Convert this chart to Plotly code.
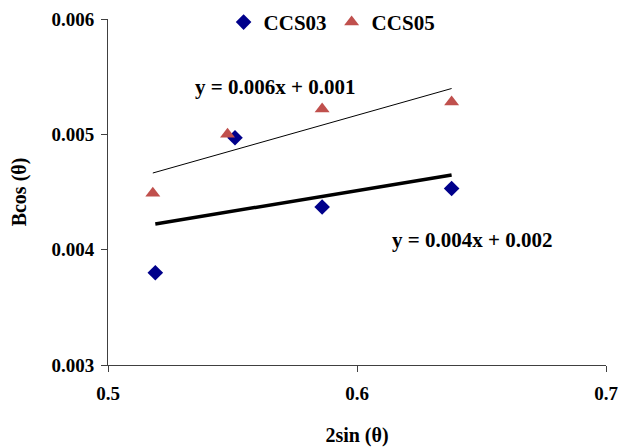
import numpy as np
import plotly.graph_objects as go

# Data
ccs03_x = [0.519, 0.551, 0.586, 0.638]
ccs03_y = [0.00380, 0.00497, 0.00437, 0.00453]
ccs05_x = [0.518, 0.548, 0.586, 0.638]
ccs05_y = [0.00449, 0.00500, 0.00522, 0.00528]

x_ticks = [0.5, 0.6, 0.7]
y_ticks = [0.003, 0.004, 0.005, 0.006]
eq03 = "y = 0.004x + 0.002"
eq05 = "y = 0.006x + 0.001"

FONT = "Liberation Serif"

def trend(xs, ys):
    m, b = np.polyfit(xs, ys, 1)
    xx = np.array([min(xs), max(xs)])
    return xx, m * xx + b

fig = go.Figure()

t03x, t03y = trend(ccs03_x, ccs03_y)
t05x, t05y = trend(ccs05_x, ccs05_y)

fig.add_trace(go.Scatter(x=t03x, y=t03y, mode="lines",
                         line=dict(color="black", width=3.5), showlegend=False))
fig.add_trace(go.Scatter(x=t05x, y=t05y, mode="lines",
                         line=dict(color="black", width=1), showlegend=False))

fig.add_trace(go.Scatter(x=ccs03_x, y=ccs03_y, mode="markers", name="CCS03",
                         marker=dict(symbol="diamond", size=12, color="#00008B")))
fig.add_trace(go.Scatter(x=ccs05_x, y=ccs05_y, mode="markers", name="CCS05",
                         marker=dict(symbol="triangle-up", size=13, color="#C0504D")))

fig.add_annotation(x=0.567, y=0.00541, text=eq05, showarrow=False,
                   font=dict(family=FONT, size=21, color="black", weight="bold"))
fig.add_annotation(x=0.646, y=0.004084, text=eq03, showarrow=False,
                   font=dict(family=FONT, size=21, color="black", weight="bold"))

axis_common = dict(
    showgrid=False, zeroline=False, showline=True,
    linecolor="#404040", linewidth=1,
    ticks="outside", ticklen=6, tickcolor="#404040",
    tickfont=dict(family=FONT, size=19, color="black", weight="bold"),
)

fig.update_layout(
    width=624, height=439,
    paper_bgcolor="white", plot_bgcolor="white",
    margin=dict(l=100, r=26, t=11, b=82, autoexpand=False),
    xaxis=dict(range=[0.5, 0.7], tickvals=x_ticks,
               ticktext=[f"{v:.1f}" for v in x_ticks],
               ticklabelstandoff=5,
               title=dict(text="2sin (θ)", standoff=25,
                          font=dict(family=FONT, size=20, color="black", weight="bold")),
               **axis_common),
    yaxis=dict(range=[0.003, 0.006], tickvals=y_ticks,
               ticktext=[f"{v:.3f}" for v in y_ticks],
               ticklabelstandoff=3,
               title=dict(text="Bcos (θ)", standoff=19,
                          font=dict(family=FONT, size=20, color="black", weight="bold")),
               **axis_common),
    legend=dict(orientation="h", x=0.45, xanchor="center", y=0.99, yanchor="middle",
                font=dict(family=FONT, size=21, color="black", weight="bold"),
                bgcolor="rgba(0,0,0,0)", itemwidth=30, tracegroupgap=0),
    showlegend=True,
)

fig.write_html("out.html")
